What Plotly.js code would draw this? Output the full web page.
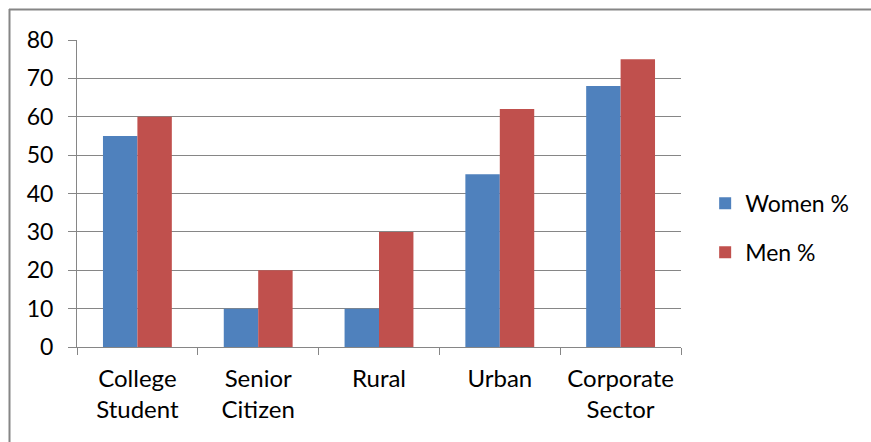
<!DOCTYPE html>
<html>
<head>
<meta charset="utf-8">
<script src="https://cdn.plot.ly/plotly-3.0.1.min.js"></script>
<style>html,body{margin:0;padding:0;background:#fff;}#chart{width:871px;height:442px;}</style>
</head>
<body>
<div id="chart"></div>
<script>
var categories = ["College<br>Student", "Senior<br>Citizen", "Rural", "Urban", "Corporate<br>Sector"];
var womenPct = [55, 10, 10, 45, 68];
var menPct = [60, 20, 30, 62, 75];
var seriesNames = ["Women %", "Men %"];
var yTicks = [0, 10, 20, 30, 40, 50, 60, 70, 80];

var FONT = "Lato, 'Open Sans', sans-serif";
var traces = [
  {type: "bar", name: seriesNames[0], x: categories, y: womenPct, marker: {color: "#4F81BD"}, legendgroup: "a"},
  {type: "bar", name: seriesNames[1], x: categories, y: menPct, marker: {color: "#C0504D"}, legendgroup: "b"}
];
var layout = {
  width: 871, height: 442,
  margin: {l: 77, r: 190, t: 40, b: 95, pad: 0},
  paper_bgcolor: "#fff", plot_bgcolor: "#fff",
  font: {family: FONT, size: 23, color: "#000"},
  barmode: "group", bargap: 0.43, bargroupgap: 0,
  xaxis: {
    type: "category", showgrid: false, zeroline: false,
    showline: true, linecolor: "#868686", linewidth: 1,
    ticks: "outside", tickson: "boundaries", ticklen: 7, tickcolor: "#868686",
    tickfont: {family: FONT, size: 24, color: "#000"}, ticklabelstandoff: 10
  },
  yaxis: {
    range: [0, 80], tickvals: yTicks, ticktext: yTicks.map(String),
    showgrid: true, gridcolor: "#868686", gridwidth: 1,
    showline: true, linecolor: "#868686", linewidth: 1, zeroline: false,
    ticks: "outside", ticklen: 8, tickcolor: "#868686",
    tickfont: {family: FONT, size: 23, color: "#000"}, ticklabelstandoff: 10
  },
  legend: {
    x: 1.04, xanchor: "left", y: 0.388, yanchor: "middle",
    font: {family: FONT, size: 23, color: "#000"},
    tracegroupgap: 16, traceorder: "grouped", bgcolor: "rgba(0,0,0,0)"
  },
  shapes: [
    {type: "line", xref: "paper", yref: "paper", x0: (9 - 77) / 604, x1: (880 - 77) / 604, y0: (347 - 9.5) / 307, y1: (347 - 9.5) / 307, line: {color: "#868686", width: 2}},
    {type: "line", xref: "paper", yref: "paper", x0: (9.5 - 77) / 604, x1: (9.5 - 77) / 604, y0: (347 - 9) / 307, y1: (347 - 460) / 307, line: {color: "#868686", width: 2}}
  ]
};
Plotly.newPlot("chart", traces, layout, {displayModeBar: false, staticPlot: true});
</script>
</body>
</html>
